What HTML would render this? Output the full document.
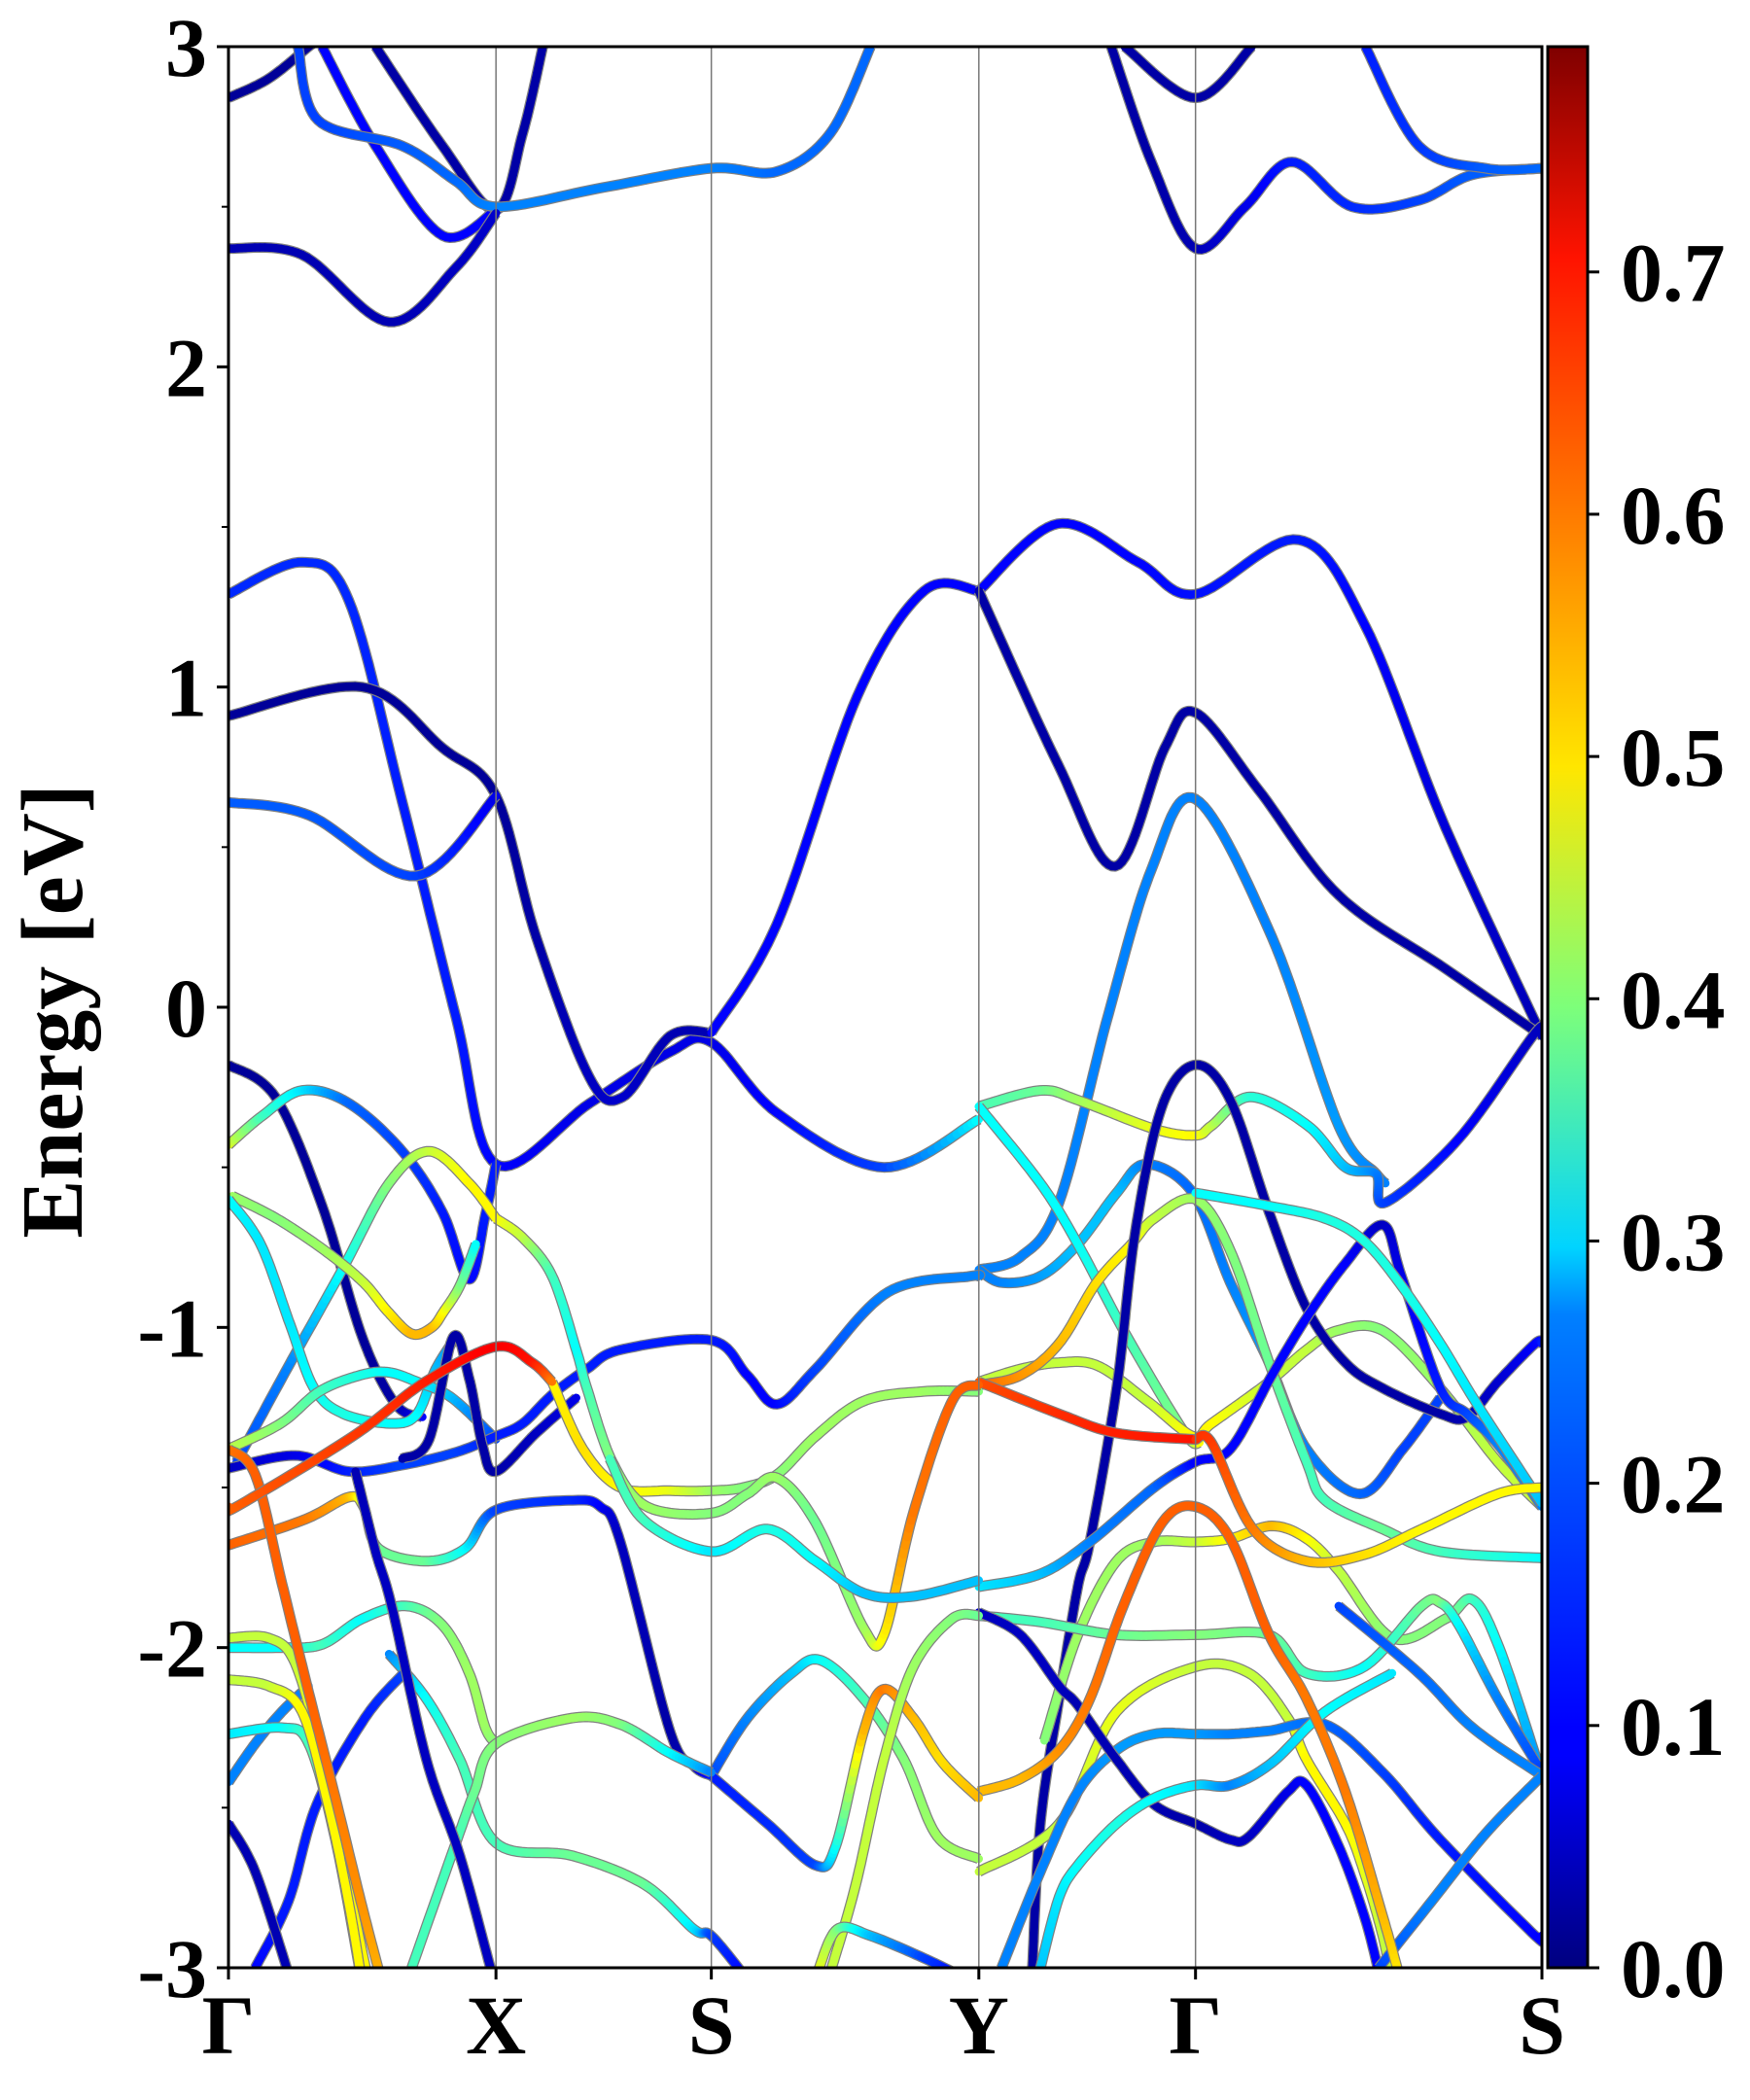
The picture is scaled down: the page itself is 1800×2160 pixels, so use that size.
<!DOCTYPE html>
<html><head><meta charset="utf-8">
<style>
html,body{margin:0;padding:0;background:#fff;}
svg{display:block;}
text{font-family:"Liberation Serif",serif;font-weight:bold;fill:#000;}
</style></head>
<body>
<svg id="chart" width="1800" height="2160" viewBox="0 0 1800 2160" xmlns="http://www.w3.org/2000/svg">
<defs>
<clipPath id="plotclip"><rect x="235" y="48" width="1351" height="1976"/></clipPath>
<linearGradient id="jetgrad" x1="0" y1="1" x2="0" y2="0">
<stop offset="0" stop-color="#00007f"/><stop offset="0.11" stop-color="#0000ff"/><stop offset="0.125" stop-color="#0000ff"/>
<stop offset="0.34" stop-color="#0080ff"/><stop offset="0.375" stop-color="#00d4ff"/><stop offset="0.5" stop-color="#7dff7a"/>
<stop offset="0.625" stop-color="#ffe600"/><stop offset="0.75" stop-color="#ff8000"/><stop offset="0.89" stop-color="#ff1300"/><stop offset="1" stop-color="#7f0000"/>
</linearGradient>
</defs>
<g id="bands" clip-path="url(#plotclip)"></g>
<g id="axes"></g>
</svg>
<script>
// k-path positions (cumulative path length, arbitrary units) and labels
const kLabels = ["Γ","X","S","Y","Γ","S"];
const kTicks = [0,200,361,561,723,982];
const eTicks = [-3,-2,-1,0,1,2,3];
const cbTicks = [0.0,0.1,0.2,0.3,0.4,0.5,0.6,0.7];
const cbMax = 0.793;
// bands: [k, energy(eV), weight]
const bandB1=[[0,2.84,.02],[30,2.9,.02],[60,3.0,.02],[75,3.05,.02]];
const bandB2=[[110,3.0,.03],[160,2.69,.03],[200,2.49,.03],[220,2.73,.03],[235,3.0,.03]];
const bandB3=[[70,3.0,.1],[110,2.69,.1],[160,2.41,.1],[200,2.49,.1]];
const bandB4=[[52,3.0,.15],[67,2.77,.15],[130,2.69,.17],[170,2.58,.18],[200,2.5,.2],[280,2.56,.2],[361,2.62,.2],[410,2.61,.18],[450,2.73,.18],[480,3.0,.18]];
const bandB5=[[0,2.37,.04],[55,2.35,.04],[120,2.14,.04],[170,2.31,.05],[200,2.48,.06]];
const bandB6=[[660,3.0,.03],[690,2.64,.03],[723,2.37,.04],[760,2.5,.08],[795,2.64,.12],[840,2.5,.13],[890,2.52,.15],[930,2.6,.17],[982,2.62,.18]];
const bandB7=[[670,3.0,.03],[723,2.84,.03],[765,3.0,.03]];
const bandB8=[[850,3.0,.12],[890,2.69,.14],[940,2.62,.17],[982,2.62,.18]];
const bandB9=[[0,1.29,.13],[55,1.39,.13],[90,1.27,.13],[130,.64,.12],[170,-.03,.12],[200,-.49,.1],[270,-.3,.08],[330,-.14,.08],[361,-.11,.08],[410,-.33,.1],[490,-.5,.15],[561,-.35,.3]];
const bandB10=[[0,.91,.02],[100,1.0,.02],[160,.81,.02],[200,.66,.02],[230,.22,.03],[270,-.22,.05],[295,-.28,.06],[330,-.09,.04],[361,-.08,.04]];
const bandB11=[[0,.64,.17],[60,.6,.17],[140,.41,.15],[200,.66,.08]];
const bandB12=[[361,-.08,.1],[410,.26,.1],[470,.97,.1],[520,1.3,.1],[561,1.3,.1]];
const bandB13=[[561,1.3,.1],[620,1.51,.1],[680,1.39,.1],[723,1.29,.11],[800,1.46,.12],[850,1.19,.1],[910,.56,.07],[982,-.09,.04]];
const bandB14=[[561,1.3,.03],[620,.76,.03],[663,.44,.03],[700,.81,.03],[723,.92,.03],[770,.68,.03],[830,.35,.03],[910,.12,.03],[982,-.09,.03]];
const bandB15=[[561,-.82,.2],[592,-.78,.2],[621,-.61,.2],[658,-.02,.2],[690,.43,.2],[723,.65,.2],[780,.22,.2],[830,-.37,.22],[858,-.52,.2],[865,-.55,.2]];
const bandB16=[[561,-.31,.35],[607,-.26,.38],[635,-.29,.42],[692,-.38,.48],[723,-.4,.5],[735,-.37,.45],[764,-.28,.33],[807,-.37,.3],[835,-.5,.25],[858,-.52,.2],[865,-.61,.15],[920,-.41,.1],[977,-.08,.05],[982,-.09,.05]];
const bandB17=[[561,-.82,.2],[578,-.86,.2],[607,-.84,.22],[635,-.74,.25],[664,-.58,.25],[686,-.49,.2],[721,-.58,.18],[749,-.86,.2],[778,-1.11,.22],[806,-1.38,.2],[846,-1.52,.18],[878,-1.38,.15],[906,-1.22,.15]];
const bandB18=[[561,-.31,.3],[607,-.55,.3],[635,-.74,.3],[672,-1.03,.35],[715,-1.33,.4],[726,-1.36,.5]];
const bandB19=[[561,-1.17,.63],[621,-1.27,.66],[664,-1.33,.67],[723,-1.35,.68]];
const bandB20=[[561,-1.17,.45],[592,-1.13,.45],[621,-1.11,.45],[650,-1.12,.45],[687,-1.23,.45],[721,-1.34,.5],[735,-1.3,.5],[778,-1.17,.45],[806,-1.07,.45],[829,-1.01,.42],[863,-1.01,.4],[906,-1.19,.42],[949,-1.42,.45],[982,-1.56,.45]];
const bandB21=[[561,-1.18,.62],[592,-1.15,.58],[621,-1.05,.55],[649,-.86,.52],[675,-.74,.5],[692,-.66,.45],[723,-.6,.42],[749,-.76,.4],[778,-1.11,.38],[806,-1.42,.35],[820,-1.54,.35],[863,-1.63,.38],[906,-1.7,.35],[982,-1.72,.3]];
const bandB22=[[601,-3.0,.03],[607,-2.55,.03],[621,-2.16,.03],[635,-1.81,.03],[644,-1.67,.03],[664,-1.19,.03],[678,-.7,.03],[698,-.31,.03],[723,-.18,.03],[749,-.29,.03],[778,-.64,.03],[806,-.94,.03],[835,-1.11,.03],[863,-1.19,.03],[906,-1.27,.03],[926,-1.28,.04],[949,-1.17,.06],[977,-1.05,.1],[982,-1.05,.12]];
const bandB23=[[561,-1.81,.28],[607,-1.77,.25],[644,-1.67,.2],[692,-1.5,.18],[723,-1.42,.1],[749,-1.38,.1],[780,-1.15,.1],[806,-.97,.1],[835,-.8,.1],[863,-.68,.05],[877,-.84,.08],[906,-1.19,.12],[926,-1.27,.15],[950,-1.37,.2],[982,-1.56,.2]];
const bandB24=[[561,-2.45,.55],[592,-2.41,.55],[621,-2.32,.58],[644,-2.16,.6],[669,-1.87,.62],[698,-1.61,.62],[723,-1.56,.62],[749,-1.66,.62],[778,-1.96,.62],[806,-2.16,.6],[835,-2.45,.6],[863,-2.84,.55],[877,-3.05,.5]];
const bandB25=[[723,-1.35,.66],[735,-1.36,.65],[766,-1.63,.6],[806,-1.73,.55],[849,-1.71,.52],[892,-1.63,.5],[949,-1.52,.5],[982,-1.5,.5]];
const bandB26=[[610,-2.29,.4],[635,-1.96,.42],[664,-1.73,.42],[692,-1.67,.42],[723,-1.67,.45],[749,-1.66,.5],[780,-1.62,.55],[806,-1.66,.5],[830,-1.76,.45],[870,-1.97,.4],[910,-1.91,.4],[930,-1.85,.35],[950,-2.0,.3],[982,-2.4,.2]];
const bandB27=[[561,-1.9,.35],[607,-1.92,.35],[664,-1.96,.38],[723,-1.96,.4],[778,-1.96,.38],[806,-2.08,.35],[849,-2.06,.3],[892,-1.87,.38],[906,-1.86,.4],[920,-1.93,.3],[949,-2.16,.2],[982,-2.39,.15]];
const bandB28=[[561,-2.7,.45],[621,-2.55,.45],[664,-2.2,.48],[723,-2.06,.45],[763,-2.08,.45],[792,-2.22,.45],[806,-2.35,.5],[835,-2.55,.5],[849,-2.7,.48],[863,-2.9,.45],[870,-3.05,.45]];
const bandB29=[[578,-3.0,.2],[607,-2.7,.2],[635,-2.45,.2],[664,-2.32,.22],[692,-2.27,.22],[723,-2.27,.22],[749,-2.27,.2],[778,-2.26,.2],[820,-2.24,.18],[863,-2.39,.15],[906,-2.6,.12],[977,-2.9,.1],[982,-2.9,.1]];
const bandB30=[[561,-1.89,.05],[592,-1.96,.05],[621,-2.12,.05],[635,-2.18,.04],[664,-2.35,.04],[692,-2.49,.04],[723,-2.55,.03],[749,-2.6,.05],[763,-2.59,.05],[792,-2.45,.08],[806,-2.43,.1],[830,-2.62,.1],[850,-2.85,.1],[862,-3.05,.1]];
const bandB31=[[607,-3.0,.25],[621,-2.78,.28],[635,-2.68,.3],[664,-2.55,.32],[692,-2.47,.3],[723,-2.43,.28],[749,-2.43,.2],[780,-2.36,.25],[820,-2.2,.3],[870,-2.08,.28]];
const bandB32=[[830,-1.87,.15],[890,-2.08,.18],[930,-2.25,.2],[982,-2.4,.2]];
const bandB33=[[860,-3.0,.15],[900,-2.79,.2],[940,-2.58,.2],[982,-2.4,.2]];
const bandB35=[[723,-.58,.3],[777,-.62,.3],[820,-.66,.32],[849,-.73,.32],[877,-.87,.32],[906,-1.05,.3],[935,-1.25,.28],[982,-1.55,.25]];
const bandLnavy=[[0,-.18,.02],[35,-.28,.02],[70,-.62,.02],[100,-1.03,.02],[125,-1.24,.03],[145,-1.28,.1]];
const bandL2=[[0,-.43,.48],[25,-.34,.35],[55,-.26,.28],[90,-.3,.18],[130,-.45,.15],[160,-.64,.12],[180,-.85,.1],[192,-.65,.12],[200,-.49,.12]];
const bandLhump=[[6,-1.42,.15],[45,-1.12,.2],[85,-.82,.3],[120,-.55,.4],[150,-.45,.45],[180,-.55,.5],[200,-.66,.5]];
const bandLydip=[[3,-.59,.42],[36,-.66,.4],[72,-.76,.42],[101,-.86,.45],[119,-.95,.5],[137,-1.02,.55],[152,-1.0,.55],[161,-.95,.5],[173,-.87,.4],[185,-.74,.3]];
const bandLc=[[0,-.6,.3],[24,-.74,.28],[46,-.99,.28],[64,-1.19,.3],[86,-1.27,.32],[122,-1.3,.3],[141,-1.27,.3],[155,-1.13,.25],[170,-1.03,.2]];
const bandLg=[[0,-1.38,.45],[39,-1.3,.4],[68,-1.2,.35],[98,-1.15,.32],[119,-1.14,.3],[141,-1.17,.3],[167,-1.22,.25],[200,-1.35,.15]];
const bandLorange=[[0,-1.56,.62],[6,-1.56,.62],[93,-1.34,.65],[147,-1.17,.67],[200,-1.06,.7],[227,-1.11,.68],[242,-1.17,.6]];
const bandLp=[[242,-1.17,.5],[265,-1.38,.52],[293,-1.5,.5],[330,-1.51,.48],[361,-1.51,.42],[385,-1.5,.4],[410,-1.46,.4],[439,-1.34,.42],[475,-1.23,.42],[520,-1.2,.42],[561,-1.2,.4]];
const bandLe=[[0,-1.68,.62],[57,-1.6,.6],[90,-1.53,.55],[101,-1.56,.45],[112,-1.69,.38],[148,-1.73,.38],[177,-1.69,.3],[200,-1.57,.15],[257,-1.54,.13],[278,-1.56,.1],[293,-1.67,.05],[330,-2.26,.03],[348,-2.37,.05],[361,-2.4,.12]];
const bandLnavypeak=[[130,-1.41,.03],[150,-1.35,.03],[168,-1.03,.03],[180,-1.16,.03],[190,-1.37,.03],[200,-1.45,.03],[230,-1.33,.05],[260,-1.22,.08]];
const bandLxs=[[0,-1.44,.05],[50,-1.4,.08],[90,-1.45,.12],[130,-1.43,.15],[170,-1.39,.15],[200,-1.34,.12],[220,-1.3,.12],[242,-1.21,.12],[268,-1.13,.12],[293,-1.07,.12],[361,-1.04,.12],[388,-1.15,.1],[410,-1.24,.1],[439,-1.13,.15],[493,-.89,.2],[555,-.84,.2],[561,-.84,.2]];
const bandLq=[[200,-.66,.5],[220,-.72,.45],[242,-.84,.35],[260,-1.07,.3],[268,-1.19,.35],[287,-1.42,.4],[313,-1.56,.42],[361,-1.58,.4],[388,-1.52,.4],[410,-1.47,.42],[439,-1.61,.38],[475,-1.94,.42],[490,-1.96,.5],[512,-1.58,.6],[541,-1.23,.62],[561,-1.18,.62]];
const bandLr=[[285,-1.41,.35],[310,-1.6,.35],[361,-1.7,.28],[403,-1.63,.32],[439,-1.73,.3],[475,-1.83,.25],[512,-1.84,.25],[561,-1.79,.25]];
const bandLt=[[361,-2.4,.15],[388,-2.22,.2],[421,-2.08,.25],[443,-2.04,.3],[475,-2.16,.35],[505,-2.35,.4],[530,-2.59,.42],[561,-2.66,.42]];
const bandLu=[[361,-2.4,.12],[403,-2.55,.13],[439,-2.68,.15],[454,-2.62,.3],[475,-2.26,.55],[490,-2.13,.6],[512,-2.22,.55],[534,-2.36,.52],[561,-2.47,.55]];
const bandLv=[[451,-3.0,.45],[469,-2.74,.45],[490,-2.35,.45],[512,-2.06,.42],[541,-1.91,.4],[561,-1.9,.38]];
const bandLi=[[0,-1.38,.6],[20,-1.46,.62],[40,-1.8,.62],[60,-2.14,.62],[80,-2.47,.6],[100,-2.81,.58],[115,-3.05,.55]];
const bandLj=[[0,-2.1,.45],[30,-2.12,.45],[55,-2.2,.5],[75,-2.5,.5],[90,-2.8,.5],[100,-3.05,.5]];
const bandLj2=[[0,-1.97,.45],[30,-1.97,.45],[50,-2.05,.45],[70,-2.35,.5],[90,-2.75,.5],[105,-3.05,.5]];
const bandLj3=[[0,-2.27,.28],[40,-2.25,.3],[60,-2.3,.35],[80,-2.6,.4],[100,-3.05,.45]];
const bandLk=[[95,-1.45,.04],[110,-1.7,.05],[122,-1.87,.05],[148,-2.35,.05],[173,-2.65,.05],[199,-3.05,.05]];
const bandLl=[[137,-3.0,.35],[170,-2.61,.35],[184,-2.45,.38],[200,-2.3,.4],[257,-2.22,.42],[293,-2.24,.4],[330,-2.33,.3],[361,-2.39,.2]];
const bandLm=[[0,-2.0,.3],[40,-2.0,.3],[70,-1.99,.35],[100,-1.91,.3],[133,-1.87,.35],[160,-1.93,.4],[180,-2.08,.42],[192,-2.25,.42],[200,-2.3,.4]];
const bandLn=[[120,-2.02,.2],[148,-2.16,.3],[173,-2.35,.35],[200,-2.61,.35],[257,-2.65,.38],[311,-2.74,.38],[348,-2.88,.28],[361,-2.9,.15],[385,-3.02,.1]];
const bandLo=[[20,-3.0,.1],[45,-2.79,.12],[66,-2.49,.12],[102,-2.22,.12],[131,-2.08,.15]];
const bandLbot=[[0,-2.55,.04],[20,-2.7,.04],[45,-3.02,.04]];
const bandLblue=[[0,-2.42,.2],[20,-2.3,.2],[40,-2.2,.2],[60,-2.12,.2]];
const bandLw=[[440,-3.02,.5],[455,-2.88,.4],[480,-2.9,.25],[520,-2.97,.15],[545,-3.02,.1]];

const bands=[bandB1,bandB2,bandB3,bandB4,bandB5,bandB6,bandB7,bandB8,bandB9,bandB10,bandB11,bandB12,bandB13,bandB14,bandB15,bandB16,bandB17,bandB18,bandB20,bandB21,bandB22,bandB23,bandB26,bandB27,bandB28,bandB29,bandB30,bandB31,bandB32,bandB33,bandB35,bandB19,bandB24,bandB25,
bandLnavy,bandL2,bandLhump,bandLydip,bandLc,bandLg,bandLxs,bandLnavypeak,bandLe,bandLp,bandLq,bandLr,bandLt,bandLu,bandLv,bandLm,bandLn,bandLo,bandLbot,bandLblue,bandLw,bandLl,bandLk,bandLj3,bandLj2,bandLj,bandLi,bandLorange];

const NS="http://www.w3.org/2000/svg";
const PL=235,PR=1586,PT=48,PB=2024;
const kMax=982;
function xS(k){return PL+(k/kMax)*(PR-PL);}
function yS(e){return PB-(e+3)/6*(PB-PT);}
function cbY(v){return PB-(v/cbMax)*(PB-PT);}
function jet(t){
  t=Math.max(0,Math.min(1,t));
  const r=Math.max(0,Math.min(1,1.5-Math.abs(4*t-3)));
  const g=Math.max(0,Math.min(1,1.5-Math.abs(4*t-2)));
  const b=Math.max(0,Math.min(1,1.5-Math.abs(4*t-1)));
  return "rgb("+Math.round(r*255)+","+Math.round(g*255)+","+Math.round(b*255)+")";
}
function mk(tag,attrs,parent){const e=document.createElementNS(NS,tag);for(const a in attrs)e.setAttribute(a,attrs[a]);parent.appendChild(e);return e;}

const gB=document.getElementById("bands");
function sample(pts){
  const out=[];
  for(let i=0;i<pts.length-1;i++){
    const p0=pts[Math.max(0,i-1)],p1=pts[i],p2=pts[i+1],p3=pts[Math.min(pts.length-1,i+2)];
    const N=16;
    for(let s=0;s<N;s++){
      const t=s/N,t2=t*t,t3=t2*t;
      const f=(a,b,c,d)=>0.5*((2*b)+(-a+c)*t+(2*a-5*b+4*c-d)*t2+(-a+3*b-3*c+d)*t3);
      out.push([f(p0[0],p1[0],p2[0],p3[0]),f(p0[1],p1[1],p2[1],p3[1]),p1[2]+(p2[2]-p1[2])*t]);
    }
  }
  const l=pts[pts.length-1];out.push([l[0],l[1],l[2]]);
  return out;
}
bands.forEach((b,bi)=>{
  const s=sample(b);
  const g=mk("g",{},gB);
  
  
  let d="";
  s.forEach((p,i)=>{d+=(i?"L":"M")+xS(p[0]).toFixed(1)+" "+yS(p[1]).toFixed(1);});
  mk("path",{d:d,fill:"none",stroke:"#808080","stroke-width":11,"stroke-linejoin":"round","stroke-linecap":"butt"},g);
  for(let i=0;i<s.length-1;i++){
    const a=s[i],c=s[i+1];
    mk("line",{x1:xS(a[0]).toFixed(1),y1:yS(a[1]).toFixed(1),x2:xS(c[0]).toFixed(1),y2:yS(c[1]).toFixed(1),stroke:jet(((a[2]+c[2])/2)/cbMax),"stroke-width":8.5,"stroke-linecap":"round"},g);
  }
});

const gA=document.getElementById("axes");
kTicks.slice(1,-1).forEach((k,i)=>{
  const l=mk("line",{x1:xS(k),x2:xS(k),y1:PT,y2:PB,stroke:"#777","stroke-width":1.5},gA);
  
  
});
const frame=mk("rect",{x:PL,y:PT,width:PR-PL,height:PB-PT,fill:"none",stroke:"#000","stroke-width":3},gA);


eTicks.forEach(e=>{
  mk("line",{x1:PL-12,x2:PL,y1:yS(e),y2:yS(e),stroke:"#000","stroke-width":3},gA);
  const t=mk("text",{x:PL-22,y:yS(e)+30,"text-anchor":"end","font-size":86},gA);
  t.textContent=String(e);
  
  
});
for(let e=-2.5;e<3;e+=1){mk("line",{x1:PL-7,x2:PL,y1:yS(e),y2:yS(e),stroke:"#000","stroke-width":2},gA);}
kTicks.forEach((k,i)=>{
  mk("line",{x1:xS(k),x2:xS(k),y1:PB,y2:PB+12,stroke:"#000","stroke-width":3},gA);
  const t=mk("text",{x:xS(k),y:PB+88,"text-anchor":"middle","font-size":86},gA);
  t.textContent=kLabels[i];
  
  
});
const yt=mk("text",{x:0,y:0,"text-anchor":"middle","font-size":90,transform:"translate(84,1040) rotate(-90)"},gA);
yt.textContent="Energy [eV]";


const CX=1592,CW=41;
const cb=mk("rect",{x:CX,y:PT,width:CW,height:PB-PT,fill:"url(#jetgrad)",stroke:"#000","stroke-width":3},gA);


cbTicks.forEach(v=>{
  mk("line",{x1:CX+CW,x2:CX+CW+12,y1:cbY(v),y2:cbY(v),stroke:"#000","stroke-width":3},gA);
  const t=mk("text",{x:CX+CW+34,y:cbY(v)+30,"text-anchor":"start","font-size":86},gA);
  t.textContent=v.toFixed(1);
  
  
});
</script>
</body></html>
